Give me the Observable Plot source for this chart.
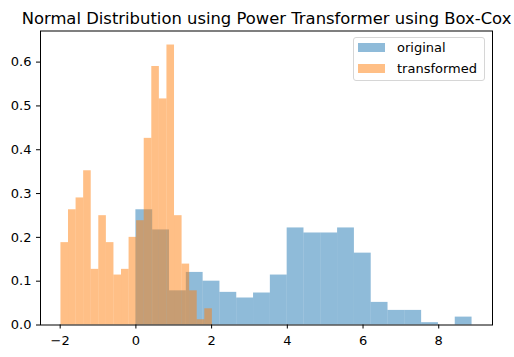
<!DOCTYPE html>
<html>
<head>
<meta charset="utf-8">
<script src="https://cdn.jsdelivr.net/npm/d3@7"></script>
<script src="https://cdn.jsdelivr.net/npm/@observablehq/plot@0.6"></script>
<style>
  html, body { margin: 0; padding: 0; background: white; }
  #wrap { position: relative; width: 514px; height: 357px; font-family: "DejaVu Sans", sans-serif; }
  #legend {
    position: absolute; left: 353px; top: 37px; width: 132px; height: 44px;
    border: 1px solid #d6d6d6; border-radius: 3px; background: rgba(255,255,255,0.8);
    box-sizing: border-box; font-size: 13px; color: #000;
  }
  .item { position: absolute; left: 4px; height: 14px; display: flex; align-items: center; white-space: nowrap; }
  .sw { width: 27px; height: 9px; margin-right: 12px; }
</style>
</head>
<body>
<div id="wrap"></div>
<script>
// Bin edges and density values
const originalEdges = [0.000, 0.444, 0.888, 1.332, 1.776, 2.220, 2.664, 3.108, 3.552, 3.996, 4.440,
                       4.884, 5.328, 5.772, 6.216, 6.660, 7.104, 7.548, 7.992, 8.436, 8.880];
const originalDensity = [0.263, 0.217, 0.078, 0.120, 0.100, 0.0745, 0.0616, 0.073, 0.114, 0.2215,
                         0.210, 0.210, 0.2215, 0.164, 0.0516, 0.0333, 0.0333, 0.0053, 0.0, 0.018];
const transformedEdges = [-1.98, -1.78, -1.58, -1.38, -1.18, -0.98, -0.78, -0.58, -0.38, -0.18, 0.02,
                          0.22, 0.42, 0.62, 0.82, 1.02, 1.22, 1.42, 1.62, 1.82, 2.02];
const transformedDensity = [0.188, 0.263, 0.290, 0.352, 0.127, 0.2495, 0.188, 0.114, 0.127, 0.200,
                            0.238, 0.426, 0.590, 0.516, 0.639, 0.2495, 0.139, 0.078, 0.012, 0.037];
const seriesNames = ["original", "transformed"];
const seriesColors = ["#1f77b4", "#ff7f0e"];
const xTicks = [-2, 0, 2, 4, 6, 8];
const yTicks = [0, 0.1, 0.2, 0.3, 0.4, 0.5, 0.6];
const titleText = "Normal Distribution using Power Transformer using Box-Cox";

const toBins = (edges, dens) => dens.map((y, i) => ({x1: edges[i], x2: edges[i + 1], y}));
const original = toBins(originalEdges, originalDensity);
const transformed = toBins(transformedEdges, transformedDensity);

const chart = Plot.plot({
  width: 514,
  height: 357,
  marginLeft: 40,
  marginRight: 22,
  marginTop: 30.5,
  marginBottom: 32.5,
  style: {fontFamily: "DejaVu Sans, sans-serif", fontSize: "13px", color: "#000", background: "white"},
  x: {domain: [-2.52, 9.42]},
  y: {domain: [0, 0.671]},
  marks: [
    Plot.rectY(original, {x1: "x1", x2: "x2", y: "y", fill: seriesColors[0], fillOpacity: 0.5, insetLeft: 0, insetRight: 0}),
    Plot.rectY(transformed, {x1: "x1", x2: "x2", y: "y", fill: seriesColors[1], fillOpacity: 0.5, insetLeft: 0, insetRight: 0}),
    Plot.frame({stroke: "#000", strokeWidth: 1}),
    Plot.axisX({ticks: xTicks, tickSize: 4, tickPadding: 7, label: null,
                tickFormat: d => (d < 0 ? "\u2212" + Math.abs(d) : String(d))}),
    Plot.axisY({ticks: yTicks, tickSize: 4, tickPadding: 5, label: null, tickFormat: d3.format(".1f")}),
    Plot.text([titleText], {frameAnchor: "top", lineAnchor: "middle", dy: -12, fontSize: 16.4, fill: "#000"})
  ]
});

const wrap = document.getElementById("wrap");
wrap.appendChild(chart);

const legend = document.createElement("div");
legend.id = "legend";
seriesNames.forEach((name, i) => {
  const item = document.createElement("div");
  item.className = "item";
  item.style.top = (i === 0 ? 2 : 23) + "px";
  const sw = document.createElement("div");
  sw.className = "sw";
  sw.style.background = seriesColors[i];
  sw.style.opacity = 0.5;
  const label = document.createElement("span");
  label.textContent = name;
  item.appendChild(sw);
  item.appendChild(label);
  legend.appendChild(item);
});
wrap.appendChild(legend);
</script>
</body>
</html>
